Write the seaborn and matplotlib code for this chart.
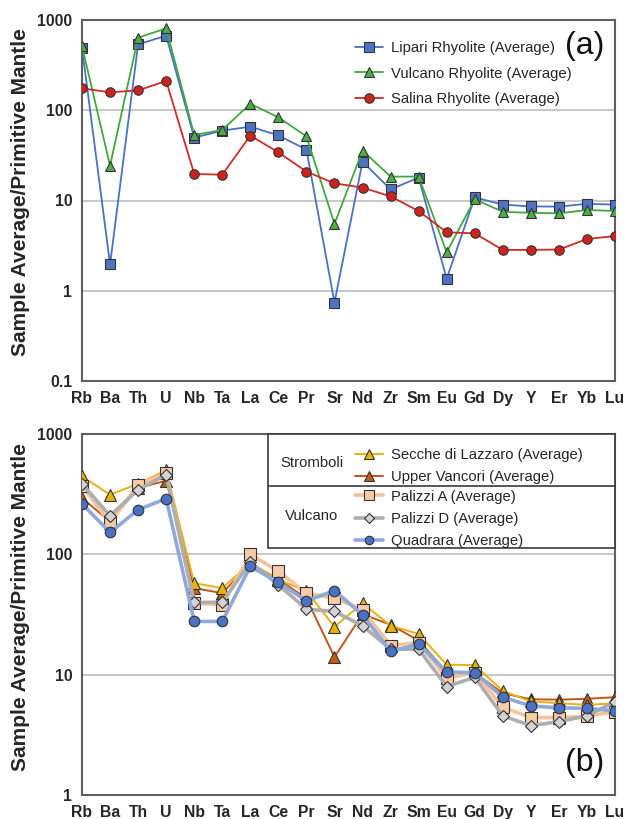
import numpy as np
import matplotlib
matplotlib.use("Agg")
import matplotlib.pyplot as plt
import seaborn as sns
from matplotlib.patches import Rectangle
from matplotlib.lines import Line2D

elements = ["Rb", "Ba", "Th", "U", "Nb", "Ta", "La", "Ce", "Pr", "Sr",
            "Nd", "Zr", "Sm", "Eu", "Gd", "Dy", "Y", "Er", "Yb", "Lu"]

# Panel (a)
lipari = [494, 1.96, 537, 670, 49.7, 59.4, 65.8, 52.7, 36.6, 0.74,
          26.9, 13.3, 17.9, 1.36, 10.8, 9.0, 8.6, 8.55, 9.2, 9.0]
vulcano_rhy = [515, 24.3, 637, 809, 53.2, 60.4, 118, 83.5, 51.4, 5.5,
               35.7, 18.4, 18.4, 2.67, 10.3, 7.5, 7.3, 7.2, 7.85, 7.65]
salina = [175, 158, 166, 211, 19.7, 19.3, 52.3, 34.2, 20.9, 15.5,
          13.9, 11.1, 7.65, 4.44, 4.33, 2.83, 2.84, 2.86, 3.74, 4.04]

# Panel (b)
secche = [444, 313, 386, 499, 57.6, 52.4, 84.5, 61.4, 49.5, 25.0,
          39.3, 25.5, 21.8, 12.1, 12.0, 7.3, 6.0, 5.8, 5.6, 5.8]
upper_vancori = [294, 187, 356, 409, 52.4, 47.6, 84.0, 62.0, 43.0, 14.0,
                 31.8, 26.0, 19.2, 10.5, 10.4, 7.0, 6.25, 6.2, 6.3, 6.5]
palizzi_a = [372, 182, 379, 474, 39.3, 38.1, 100, 72.1, 47.6, 43.3,
             34.6, 17.4, 18.5, 9.35, 10.4, 5.36, 4.4, 4.4, 4.5, 4.94]
palizzi_d = [386, 209, 344, 459, 39.8, 40.0, 85.7, 55.8, 35.0, 33.5,
             25.5, 16.3, 16.3, 7.97, 9.5, 4.54, 3.77, 4.07, 4.54, 5.96]
quadrara = [263, 152, 235, 290, 27.7, 27.7, 79.3, 58.7, 41.0, 50.0,
            31.4, 15.6, 17.9, 10.5, 10.4, 6.5, 5.5, 5.3, 5.25, 5.0]

labels_a = ["Lipari Rhyolite (Average)", "Vulcano Rhyolite (Average)", "Salina Rhyolite (Average)"]
labels_b1 = ["Secche di Lazzaro (Average)", "Upper Vancori (Average)"]
labels_b2 = ["Palizzi A (Average)", "Palizzi D (Average)", "Quadrara (Average)"]

sns.set_style("white")
plt.rcParams["font.family"] = ["Liberation Sans", "DejaVu Sans"]

W, H = 627, 819
fig = plt.figure(figsize=(W / 100, H / 100), dpi=100)


def fx(px):
    return px / W


def fy(py):
    return 1 - py / H


ax_a = fig.add_axes([fx(82), fy(381), fx(615) - fx(82), fy(20) - fy(381)])
ax_b = fig.add_axes([fx(82), fy(795), fx(615) - fx(82), fy(434) - fy(795)])

xpos = np.arange(len(elements))
EDGE = "#333333"
SPINE = "#5f5f5f"


def style_axes(ax, ymin):
    ax.set_yscale("log")
    ax.set_xlim(0, len(elements) - 1)
    ax.set_ylim(ymin, 1000)
    ticks = [t for t in [0.1, 1, 10, 100, 1000] if t >= ymin]
    ax.set_yticks(ticks)
    ax.set_yticklabels([("%g" % t) for t in ticks])
    ax.yaxis.set_minor_locator(matplotlib.ticker.NullLocator())
    ax.set_xticks(xpos)
    ax.set_xticklabels(elements)
    for s in ax.spines.values():
        s.set_color(SPINE)
        s.set_linewidth(1.5)
        s.set_visible(True)
    ax.tick_params(axis="both", direction="out", length=4, width=1.2,
                   color=SPINE, labelsize=11.3, pad=3)
    ax.tick_params(axis="x", pad=3.5)
    for lab in ax.get_xticklabels() + ax.get_yticklabels():
        lab.set_fontweight("bold")
    ax.yaxis.grid(True, which="major", color="#BDBDBD", linewidth=1.2)
    ax.xaxis.grid(False)
    ax.set_axisbelow(True)
    ax.set_xlabel("")
    ax.set_ylabel("")


style_axes(ax_a, 0.1)
style_axes(ax_b, 1)


def draw(ax, vals, line_color, fill, marker, ms, lw, z):
    sns.lineplot(x=xpos, y=vals, ax=ax, color=line_color, marker=marker,
                 markersize=ms, markerfacecolor=fill, markeredgecolor=EDGE,
                 markeredgewidth=0.8, linewidth=lw, errorbar=None,
                 legend=False, zorder=z)
    return ax.lines[-1]


# Panel (a)
h_lip = draw(ax_a, lipari, "#4A70C8", "#4E73C2", "s", 6.6, 1.3, 3)
h_vul = draw(ax_a, vulcano_rhy, "#3FA83F", "#4CAF45", "^", 7.4, 1.3, 4)
h_sal = draw(ax_a, salina, "#D42A22", "#D0221C", "o", 6.8, 1.3, 5)

ax_a.legend([h_lip, h_vul, h_sal], labels_a, loc="upper left",
            bbox_to_anchor=(fx(355), fy(41)), bbox_transform=fig.transFigure,
            frameon=False, borderpad=0, borderaxespad=0, handlelength=1.9,
            handletextpad=0.5, labelspacing=0.78, fontsize=10.7)
ax_a.text(fx(585), fy(46), "(a)", transform=fig.transFigure, fontsize=23,
          ha="center", va="center", color="#111111")

# Panel (b)
h_uv = draw(ax_b, upper_vancori, "#C2561A", "#C65A16", "^", 8.2, 1.4, 3)
h_sec = draw(ax_b, secche, "#E8B010", "#E8B400", "^", 8.2, 1.4, 4)
h_pa = draw(ax_b, palizzi_a, "#F5C29C", "#F7CBA8", "s", 8.6, 2.6, 5)
h_pd = draw(ax_b, palizzi_d, "#AEAEAE", "#D3D3D3", "D", 6.2, 2.6, 6)
h_qu = draw(ax_b, quadrara, "#8EA9DC", "#4A72C4", "o", 7.6, 2.6, 7)

box = Rectangle((fx(268), fy(548)), fx(615) - fx(268), fy(434) - fy(548),
                transform=fig.transFigure, facecolor="white", edgecolor="#3a3a3a",
                linewidth=1.2, zorder=8, clip_on=False)
ax_b.add_patch(box)
fig.add_artist(Line2D([fx(268), fx(615)], [fy(485.7), fy(485.7)],
                      transform=fig.transFigure, color="#3a3a3a", linewidth=1.2,
                      zorder=9))

leg1 = ax_b.legend([h_sec, h_uv], labels_b1, loc="upper left",
                   bbox_to_anchor=(fx(355), fy(448)), bbox_transform=fig.transFigure,
                   frameon=False, borderpad=0, borderaxespad=0, handlelength=1.9,
                   handletextpad=0.5, labelspacing=0.52, fontsize=10.7,
                   markerscale=0.8)
leg1.set_zorder(10)
ax_b.add_artist(leg1)
leg2 = ax_b.legend([h_pa, h_pd, h_qu], labels_b2, loc="upper left",
                   bbox_to_anchor=(fx(355), fy(489.5)), bbox_transform=fig.transFigure,
                   frameon=False, borderpad=0, borderaxespad=0, handlelength=1.9,
                   handletextpad=0.5, labelspacing=0.56, fontsize=10.7,
                   markerscale=0.8)
leg2.set_zorder(10)

fig.text(fx(312), fy(463), "Stromboli", fontsize=10.7, ha="center", va="center", zorder=11)
fig.text(fx(312), fy(516), "Vulcano", fontsize=10.7, ha="center", va="center", zorder=11)
ax_b.text(fx(585), fy(763), "(b)", transform=fig.transFigure, fontsize=23,
          ha="center", va="center", color="#111111")

ylabel = "Sample Average/Primitive Mantle"
fig.text(fx(21), fy(192), ylabel, rotation=90, fontsize=15, fontweight="bold",
         ha="center", va="center")
fig.text(fx(21), fy(607), ylabel, rotation=90, fontsize=15, fontweight="bold",
         ha="center", va="center")

fig.savefig("out.png", dpi=100)
